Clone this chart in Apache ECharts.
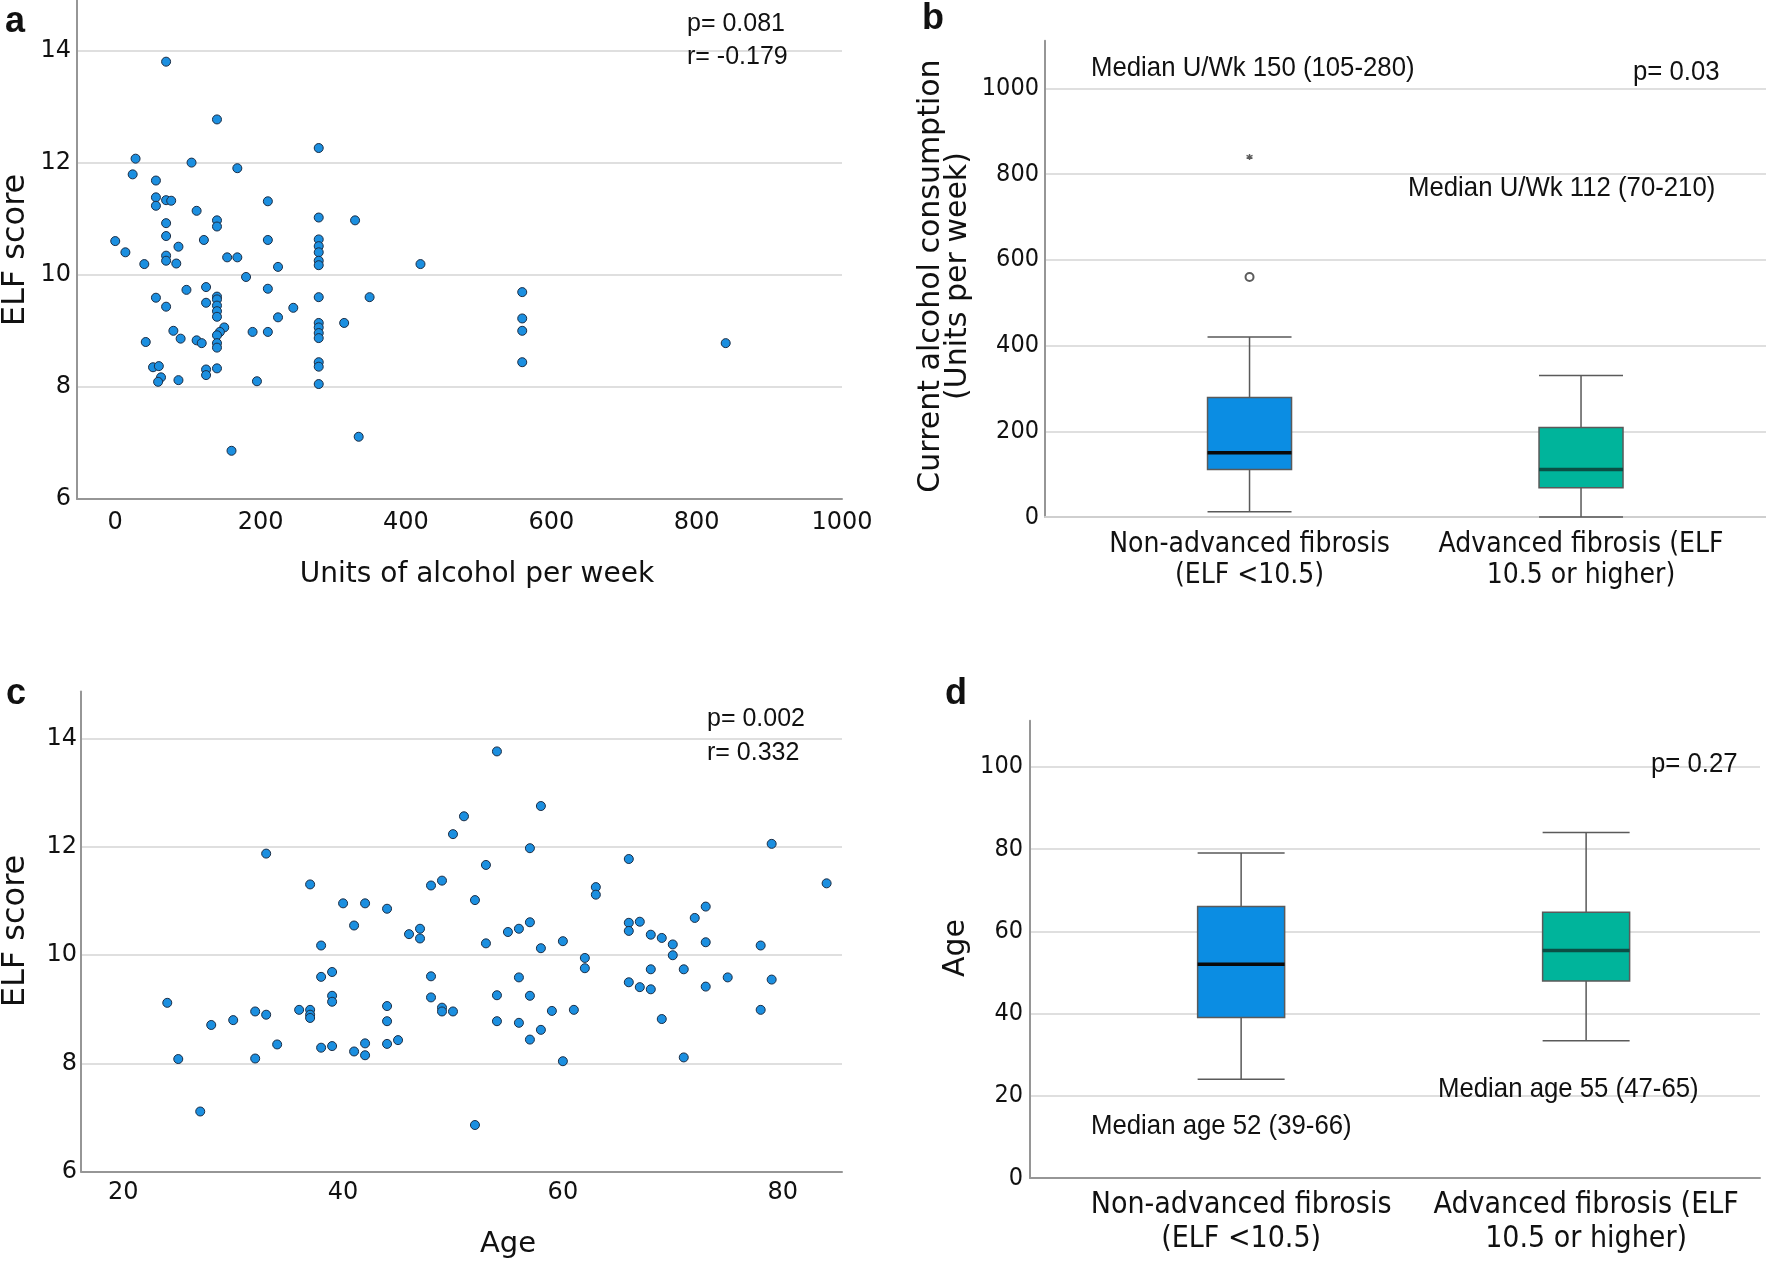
<!DOCTYPE html>
<html><head><meta charset="utf-8">
<script src="https://cdn.jsdelivr.net/npm/echarts@6/dist/echarts.min.js"></script>
<style>html,body{margin:0;padding:0;background:#fff}#c{width:1766px;height:1266px}</style>
</head><body><div id="c"></div>
<script>
// ---- Panel a: units of alcohol per week vs ELF score ----
const alcoholUnits = [70,140,280,28,105,168,24,56,56,56,70,77,210,112,140,140,280,330,70,70,122,210,0,280,280,87,280,14,70,70,154,168,280,280,40,84,224,420,180,98,125,210,56,140,140,280,350,125,70,140,140,140,245,224,315,280,280,280,280,150,144,140,140,140,80,90,189,210,112,119,42,52,60,125,125,140,280,280,63,59,87,195,280,160,335,560,560,560,560,840];
const alcoholElf = [13.8,12.77,12.26,12.07,12.0,11.9,11.79,11.68,11.38,11.23,11.33,11.32,11.31,11.14,10.97,10.86,11.02,10.97,10.92,10.69,10.62,10.62,10.6,10.63,10.51,10.5,10.4,10.4,10.34,10.25,10.31,10.31,10.25,10.17,10.19,10.2,10.14,10.19,9.96,9.73,9.78,9.75,9.59,9.61,9.56,9.6,9.6,9.5,9.43,9.45,9.35,9.25,9.41,9.24,9.14,9.14,9.06,8.96,8.87,9.06,8.98,8.92,8.78,8.7,9.0,8.86,8.98,8.98,8.83,8.78,8.8,8.35,8.37,8.31,8.21,8.33,8.44,8.36,8.17,8.09,8.12,8.1,8.05,6.86,7.11,9.69,9.22,9.0,8.44,8.78];

// ---- Panel c: age vs ELF score ----
const ages = [24,25,27,28,30,32,32,33,33,34,36,37,37,37,37,38,38,38,39,39,39,39,40,41,41,42,42,42,44,44,44,44,45,46,47,47,48,48,48,49,49,49,50,50,51,52,52,53,53,54,54,54,55,56,56,56,57,57,57,57,58,58,58,59,60,60,61,62,62,63,63,66,66,66,66,67,67,68,68,68,69,69,70,70,71,71,72,73,73,73,75,78,78,79,79,84];
const ageElf = [9.12,8.08,7.11,8.71,8.8,8.96,8.09,8.9,11.88,8.35,8.99,8.99,8.9,8.84,11.31,10.18,9.6,8.29,9.69,9.25,9.14,8.32,10.96,10.55,8.22,10.96,8.37,8.15,10.86,9.06,8.78,8.36,8.43,10.39,10.49,10.31,11.29,9.61,9.22,11.38,9.03,8.96,8.96,12.24,12.57,6.86,11.02,11.67,10.22,13.77,9.26,8.78,10.43,10.49,9.59,8.75,10.61,11.98,9.25,8.44,12.76,10.13,8.62,8.97,10.26,8.04,8.99,9.95,9.76,11.26,11.12,11.78,10.6,10.45,9.5,10.62,9.41,10.38,9.74,9.37,10.32,8.82,10.2,10.0,9.74,8.11,10.69,10.9,10.24,9.42,9.59,10.18,8.99,12.06,9.55,11.33];

// ---- Panels b and d: box plots (min, Q1, median, Q3, max) ----
const groupNames = ['Non-advanced fibrosis\n(ELF <10.5)', 'Advanced fibrosis (ELF\n10.5 or higher)'];
const alcoholBoxes = [[12, 111, 150, 279, 420], [0, 68, 111, 209, 330]];
const alcoholOutliers = [560];   // group 1, circle
const alcoholExtremes = [840];   // group 1, asterisk
const ageBoxes = [[24, 39, 52, 66, 79], [33.4, 47.9, 55.3, 64.6, 84]];

// ---- tick labels ----
const elfTicks = [6, 8, 10, 12, 14];
const unitTicks = [0, 200, 400, 600, 800, 1000];
const ageTicks = [20, 40, 60, 80];
const consumptionTicks = [0, 200, 400, 600, 800, 1000];
const ageBoxTicks = [0, 20, 40, 60, 80, 100];
const groupTicks = [1, 2];

// ---- annotations ----
const statsA = ['p= 0.081', 'r= -0.179'];
const statsC = ['p= 0.002', 'r= 0.332'];
const notesB = ['Median U/Wk 150 (105-280)', 'p= 0.03', 'Median U/Wk 112 (70-210)'];
const notesD = ['p= 0.27', 'Median age 52 (39-66)', 'Median age 55 (47-65)'];

const boxColors = ['#0b8de3', '#00b49b'];
const medianColors = ['#0a0a0a', '#0b4e45'];

const SANS = '"DejaVu Sans", Verdana, sans-serif';
const COND = '"DejaVu Sans Condensed", "Liberation Sans Narrow", sans-serif';
const ARIAL = '"Liberation Sans", Arial, sans-serif';
const AXIS_COL = '#969696';
const GRID_COL = '#d4d4d4';

function zip(xs, ys) { return xs.map((x, i) => [x, ys[i]]); }

function valueAxis(idx, min, max, ticks, opts) {
  opts = opts || {};
  return {
    type: 'value', gridIndex: idx, min: min, max: max,
    axisLine: { show: true, onZero: false, lineStyle: { color: opts.lineColor || AXIS_COL, width: 2 } },
    axisTick: { show: false, customValues: ticks },
    axisLabel: Object.assign({
      customValues: ticks, color: '#111', fontFamily: opts.font || SANS, fontSize: opts.fontSize || 24,
      margin: opts.margin || 8, formatter: v => String(v)
    }, opts.label || {}),
    splitLine: { show: !!opts.split, lineStyle: { color: GRID_COL, width: 1.5 } }
  };
}

function txt(x, y, text, font, align, rot, extra, sx) {
  return {
    type: 'text', x: x, y: y, rotation: rot || 0, scaleX: sx || 1, z: 100,
    style: Object.assign({
      text: text, font: font, fill: '#111',
      textAlign: align || 'left', textVerticalAlign: 'middle',
      align: align || 'left', verticalAlign: 'middle'
    }, extra || {})
  };
}

function medianSeries(xi, boxes, halfW) {
  return {
    type: 'custom', xAxisIndex: xi, yAxisIndex: xi, z: 5,
    data: boxes.map((b, i) => [i + 1, b[2]]),
    renderItem: function (params, api) {
      const p = api.coord([api.value(0), api.value(1)]);
      return { type: 'line', shape: { x1: p[0] - halfW, y1: p[1], x2: p[0] + halfW, y2: p[1] },
        style: { stroke: medianColors[params.dataIndex], lineWidth: 3.5 } };
    }
  };
}

const NOTE_FONT = '28px ' + ARIAL;
const NOTE_SX = 0.92;

const chart = echarts.init(document.getElementById('c'), null, { renderer: 'canvas' });
chart.setOption({
  animation: false,
  backgroundColor: '#ffffff',
  grid: [
    { left: 77, top: 0, width: 765, height: 499, outerBoundsMode: 'none' },
    { left: 1045, top: 40.7, width: 721, height: 476.3, outerBoundsMode: 'none' },
    { left: 81, top: 691.4, width: 761, height: 480.1, outerBoundsMode: 'none' },
    { left: 1030, top: 720.7, width: 730, height: 457.3, outerBoundsMode: 'none' }
  ],
  xAxis: [
    valueAxis(0, -52.6, 1000, unitTicks, { margin: 12 }),
    valueAxis(1, 0.383, 2.558, groupTicks, { font: COND, fontSize: 28, margin: 12, lineColor: '#cfcfcf',
      label: { formatter: v => groupNames[Math.round(v) - 1], lineHeight: 31 } }),
    valueAxis(2, 16.15, 85.4, ageTicks, { margin: 9 }),
    valueAxis(3, 0.388, 2.504, groupTicks, { font: COND, fontSize: 30, margin: 10,
      label: { formatter: v => groupNames[Math.round(v) - 1], lineHeight: 34 } })
  ],
  yAxis: [
    valueAxis(0, 6, 14.9, elfTicks, { split: true, margin: 6 }),
    valueAxis(1, 0, 1111, consumptionTicks, { split: true, font: COND, fontSize: 25, margin: 6 }),
    valueAxis(2, 6, 14.88, elfTicks, { split: true, margin: 4 }),
    valueAxis(3, 0, 111.2, ageBoxTicks, { split: true, font: COND, fontSize: 25, margin: 7 })
  ],
  series: [
    { type: 'scatter', xAxisIndex: 0, yAxisIndex: 0, data: zip(alcoholUnits, alcoholElf), symbolSize: 9,
      itemStyle: { color: '#1b8fe0', borderColor: '#1b2d45', borderWidth: 1, opacity: 1 } },
    { type: 'scatter', xAxisIndex: 2, yAxisIndex: 2, data: zip(ages, ageElf), symbolSize: 9,
      itemStyle: { color: '#1b8fe0', borderColor: '#1b2d45', borderWidth: 1, opacity: 1 } },
    { type: 'boxplot', xAxisIndex: 1, yAxisIndex: 1, layout: 'horizontal', boxWidth: [84, 84],
      data: alcoholBoxes.map((b, i) => ({ value: [i + 1].concat(b), itemStyle: { color: boxColors[i] } })),
      itemStyle: { borderColor: '#5a5a5a', borderWidth: 1.5 } },
    medianSeries(1, alcoholBoxes, 42),
    { type: 'scatter', xAxisIndex: 1, yAxisIndex: 1, data: alcoholOutliers.map(v => [1, v]), z: 6,
      symbol: 'emptyCircle', symbolSize: 8, itemStyle: { color: '#333', borderColor: '#333', borderWidth: 1.5 } },
    { type: 'scatter', xAxisIndex: 1, yAxisIndex: 1, data: alcoholExtremes.map(v => [1, v]), z: 6,
      symbol: 'path://M5,0L5,10M0,2.5L10,7.5M0,7.5L10,2.5', symbolSize: 6,
      itemStyle: { color: 'none', borderColor: '#333', borderWidth: 1.4 } },
    { type: 'boxplot', xAxisIndex: 3, yAxisIndex: 3, layout: 'horizontal', boxWidth: [87, 87],
      data: ageBoxes.map((b, i) => ({ value: [i + 1].concat(b), itemStyle: { color: boxColors[i] } })),
      itemStyle: { borderColor: '#5a5a5a', borderWidth: 1.5 } },
    medianSeries(3, ageBoxes, 43.5)
  ],
  graphic: [
    txt(15, 22, 'a', 'bold 36px ' + ARIAL, 'center'),
    txt(933, 19, 'b', 'bold 36px ' + ARIAL, 'center'),
    txt(16, 694, 'c', 'bold 36px ' + ARIAL, 'center'),
    txt(956, 694, 'd', 'bold 36px ' + ARIAL, 'center'),
    txt(16, 250, 'ELF score', '32px ' + SANS, 'center', Math.PI / 2),
    txt(16, 931, 'ELF score', '32px ' + SANS, 'center', Math.PI / 2),
    txt(477, 575, 'Units of alcohol per week', '28px ' + SANS, 'center'),
    txt(508, 1244, 'Age', '29px ' + SANS, 'center'),
    txt(945, 276, 'Current alcohol consumption\n(Units per week)', '30px ' + SANS, 'center', Math.PI / 2, { lineHeight: 27 }),
    txt(956, 948, 'Age', '30px ' + SANS, 'center', Math.PI / 2),
    txt(687, 24, statsA[0], '25px ' + ARIAL, 'left'),
    txt(687, 57, statsA[1], '25px ' + ARIAL, 'left'),
    txt(707, 719, statsC[0], '25px ' + ARIAL, 'left'),
    txt(707, 753, statsC[1], '25px ' + ARIAL, 'left'),
    txt(1091, 68, notesB[0], NOTE_FONT, 'left', 0, null, NOTE_SX),
    txt(1633, 72, notesB[1], NOTE_FONT, 'left', 0, null, NOTE_SX),
    txt(1408, 188, notesB[2], NOTE_FONT, 'left', 0, null, NOTE_SX),
    txt(1651, 764, notesD[0], NOTE_FONT, 'left', 0, null, NOTE_SX),
    txt(1091, 1126, notesD[1], NOTE_FONT, 'left', 0, null, NOTE_SX),
    txt(1438, 1089, notesD[2], NOTE_FONT, 'left', 0, null, NOTE_SX)
  ]
});
</script></body></html>
